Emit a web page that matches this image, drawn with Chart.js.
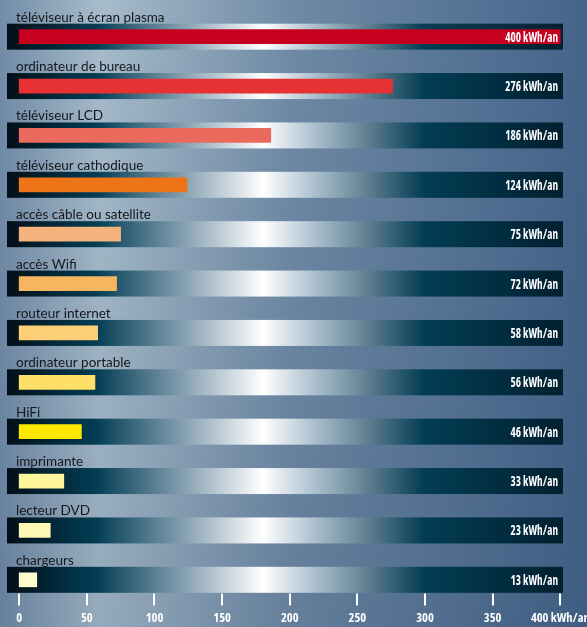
<!DOCTYPE html>
<html>
<head>
<meta charset="utf-8">
<script src="https://cdn.jsdelivr.net/npm/chart.js@4/dist/chart.umd.min.js"></script>
<style>
  html, body { margin: 0; padding: 0; }
  body { width: 587px; height: 627px; overflow: hidden; }
</style>
</head>
<body>
<canvas id="chart" width="587" height="627"></canvas>
<script>
const categories = [
  "téléviseur à écran plasma", "ordinateur de bureau", "téléviseur LCD", "téléviseur cathodique",
  "accès câble ou satellite", "accès Wifi", "routeur internet", "ordinateur portable",
  "HiFi", "imprimante", "lecteur DVD", "chargeurs"
];
const consumption = [400, 276, 186, 124, 75, 72, 58, 56, 46, 33, 23, 13];
const barColors = [
  "#c8001f", "#e63232", "#ea6a5e", "#ee7418", "#f4b27c", "#f6b660",
  "#fdd078", "#fedf68", "#ffe800", "#fff59c", "#fff7b4", "#fffacc"
];
const xTicks = [0, 50, 100, 150, 200, 250, 300, 350, 400];
const unit = "kWh/an";

const narrowFamily = "'Open Sans', sans-serif";

const ctx = document.getElementById("chart").getContext("2d");

// background, bands, labels
const decor = {
  id: "decor",
  beforeDraw(chart) {
    const c = chart.ctx, w = chart.width, h = chart.height;
    const bg = c.createLinearGradient(0, 0, w, 0);
    bg.addColorStop(0, "#728ca8");
    bg.addColorStop(0.17, "#a7bccb");
    bg.addColorStop(0.5, "#6f8aa6");
    bg.addColorStop(1, "#44648a");
    c.save();
    c.fillStyle = bg;
    c.fillRect(0, 0, w, h);
    const shade = c.createLinearGradient(0, 0, 0, h);
    shade.addColorStop(0, "rgba(20,40,70,0)");
    shade.addColorStop(1, "rgba(20,40,70,0.12)");
    c.fillStyle = shade;
    c.fillRect(0, 0, w, h);
    c.restore();
  },
  beforeDatasetsDraw(chart) {
    const c = chart.ctx, x = chart.scales.x, y = chart.scales.y;
    const left = x.left, right = x.right;
    const band = c.createLinearGradient(left, 0, right, 0);
    band.addColorStop(0, "#020f18");
    band.addColorStop(0.16, "#023d54");
    band.addColorStop(0.31, "#7f9bad");
    band.addColorStop(0.46, "#ffffff");
    band.addColorStop(0.55, "#aec2cf");
    band.addColorStop(0.66, "#557789");
    band.addColorStop(0.75, "#023d54");
    band.addColorStop(1, "#022030");
    c.save();
    categories.forEach((cat, i) => {
      const cy = y.getPixelForValue(i);
      c.fillStyle = band;
      c.fillRect(left, cy - 13, right - left, 26);
      c.fillStyle = "#15181c";
      c.font = "13.5px Lato, 'Open Sans', sans-serif";
      c.textAlign = "left";
      c.textBaseline = "alphabetic";
      c.fillText(cat, 16, cy - 15);
    });
    // tick marks
    c.strokeStyle = "#ffffff";
    c.lineWidth = 2;
    xTicks.forEach(v => {
      const px = Math.round(x.getPixelForValue(v));
      c.beginPath();
      c.moveTo(px, chart.chartArea.bottom - 11);
      c.lineTo(px, chart.chartArea.bottom + 1);
      c.stroke();
    });
    c.restore();
  },
  afterDatasetsDraw(chart) {
    const c = chart.ctx, x = chart.scales.x, y = chart.scales.y;
    c.save();
    c.fillStyle = "#ffffff";
    c.font = "bold condensed 14px " + narrowFamily;
    c.textAlign = "right";
    c.textBaseline = "middle";
    consumption.forEach((v, i) => {
      c.save();
      c.translate(x.right - 5, y.getPixelForValue(i) + 1);
      c.scale(0.8, 1);
      c.fillText(v + " " + unit, 0, 0);
      c.restore();
    });
    c.restore();
  }
};

new Chart(ctx, {
  type: "bar",
  data: {
    labels: categories,
    datasets: [{
      data: consumption,
      backgroundColor: barColors,
      barThickness: 14,
      borderWidth: 0,
      clip: false
    }]
  },
  options: {
    indexAxis: "y",
    responsive: false,
    animation: false,
    layout: { padding: { left: 7, right: 24, top: 12, bottom: 0 } },
    plugins: { legend: { display: false }, tooltip: { enabled: false } },
    scales: {
      y: { display: false, offset: true },
      x: {
        min: -9,
        max: 402,
        afterBuildTicks: axis => { axis.ticks = xTicks.map(v => ({ value: v })); },
        afterFit: axis => {
          axis.height = 22.5;
          axis.paddingLeft = 0;
          axis.paddingRight = 0;
        },
        grid: { display: false, drawTicks: false },
        border: { display: false },
        ticks: {
          autoSkip: false,
          maxRotation: 0,
          padding: 6,
          color: "#ffffff",
          font: { family: narrowFamily, size: 12.5, weight: "bold condensed" },
          callback: v => v === 400 ? "400 " + unit : String(v)
        }
      }
    }
  },
  plugins: [decor]
});
</script>
</body>
</html>
